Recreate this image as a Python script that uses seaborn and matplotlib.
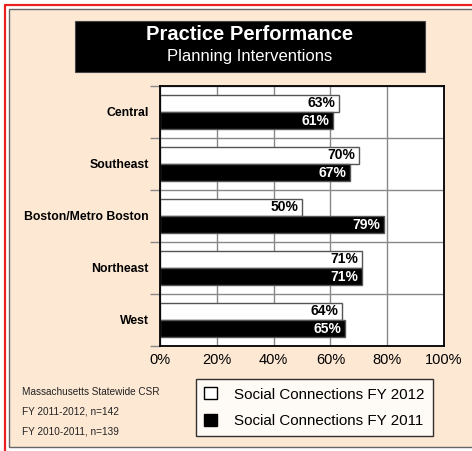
import matplotlib
matplotlib.use("Agg")
import matplotlib.pyplot as plt
import seaborn as sns
import pandas as pd
from matplotlib.patches import Rectangle
from matplotlib.lines import Line2D

# chart data
regions = ["Central", "Southeast", "Boston/Metro Boston", "Northeast", "West"]
fy2012 = [63, 70, 50, 71, 64]
fy2011 = [61, 67, 79, 71, 65]
series = ["Social Connections FY 2012", "Social Connections FY 2011"]
x_ticks = [0, 20, 40, 60, 80, 100]
notes = ["Massachusetts Statewide CSR", "FY 2011-2012, n=142", "FY 2010-2011, n=139"]

df = pd.DataFrame({
    "Region": regions * 2,
    "Value": fy2012 + fy2011,
    "Series": [series[0]] * len(regions) + [series[1]] * len(regions),
})

sns.set_style("white")
plt.rcParams["font.family"] = ["Liberation Sans", "DejaVu Sans"]
plt.rcParams["text.color"] = "black"
plt.rcParams["xtick.color"] = "black"
plt.rcParams["ytick.color"] = "black"

W, H = 472, 451
fig = plt.figure(figsize=(W / 100, H / 100), dpi=100, facecolor="white")

# page background and borders (behind the axes)
fig.patches.append(Rectangle((9 / W, 4 / H), 1.0, (447 - 9) / H, transform=fig.transFigure,
                             facecolor="#fde8d4", edgecolor="#666666", lw=1, zorder=-10))
fig.lines.append(Line2D([5 / W, 5 / W], [0, (H - 5) / H], transform=fig.transFigure,
                        color="#e8221c", lw=1.6, zorder=-9))
fig.lines.append(Line2D([5 / W, 1], [(H - 5) / H, (H - 5) / H], transform=fig.transFigure,
                        color="#e8221c", lw=1.6, zorder=-9))

# title box
fig.patches.append(Rectangle((75 / W, (H - 72) / H), 350 / W, 51 / H, transform=fig.transFigure,
                             facecolor="black", edgecolor="#444444", lw=0.8, zorder=-8))
fig.text(250 / W, (H - 35) / H, "Practice Performance", color="white", fontsize=14.5,
         fontweight="bold", ha="center", va="center")
fig.text(250 / W, (H - 56) / H, "Planning Interventions", color="white", fontsize=12,
         ha="center", va="center")

# main axes
ax = fig.add_axes([160 / W, (H - 346) / H, 284 / W, 260 / H])
sns.barplot(data=df, y="Region", x="Value", hue="Series", order=regions, hue_order=series,
            palette=["white", "black"], saturation=1, edgecolor="#555555", linewidth=1,
            width=0.67, orient="h", legend=False, ax=ax)

ax.set_facecolor("white")
ax.set_xlim(0, 100)
ax.set_ylim(len(regions) - 0.5, -0.5)
ax.set_xticks(x_ticks)
ax.set_xticklabels([f"{t}%" for t in x_ticks], fontsize=10.5, color="black")
ax.set_yticks(range(len(regions)))
ax.set_yticklabels(regions, fontsize=8.8, fontweight="bold", color="black")
ax.set_yticks([i - 0.5 for i in range(len(regions) + 1)], minor=True)
ax.tick_params(axis="y", which="major", length=0, pad=8)
ax.tick_params(axis="y", which="minor", length=7, color="#888888", width=1, left=True)
ax.tick_params(axis="x", length=0, pad=5)
ax.set_axisbelow(True)
ax.xaxis.grid(True, color="#888888", lw=1)
ax.yaxis.grid(True, which="minor", color="#888888", lw=1)
ax.set_xlabel("")
ax.set_ylabel("")
for s in ax.spines.values():
    s.set_color("black")
    s.set_linewidth(1.3)

# value labels at the bar ends
for container, values, col in zip(ax.containers, [fy2012, fy2011], ["black", "white"]):
    for bar, v in zip(container, values):
        ax.text(bar.get_width() - 1.3, bar.get_y() + bar.get_height() / 2, f"{v}%",
                ha="right", va="center", color=col, fontsize=10, fontweight="bold")

# legend
handles = [Rectangle((0, 0), 1, 1, facecolor="white", edgecolor="black", lw=1),
           Rectangle((0, 0), 1, 1, facecolor="black", edgecolor="black", lw=1)]
leg = fig.legend(handles, series, loc="upper left", bbox_to_anchor=(196 / W, (H - 379) / H),
                 fontsize=10.9, frameon=True, fancybox=False, edgecolor="black",
                 handlelength=0.85, handleheight=0.85, handletextpad=1.1, labelspacing=0.8,
                 borderpad=0.55, borderaxespad=0)
leg.get_frame().set_linewidth(1)
leg.get_frame().set_facecolor("white")
for t in leg.get_texts():
    t.set_color("black")

# footnotes
for i, note in enumerate(notes):
    fig.text(22 / W, (H - 392 - 20 * i) / H, note, fontsize=7.2, ha="left", va="center", color="#222222")

fig.savefig("out.png", dpi=100, facecolor="white")
